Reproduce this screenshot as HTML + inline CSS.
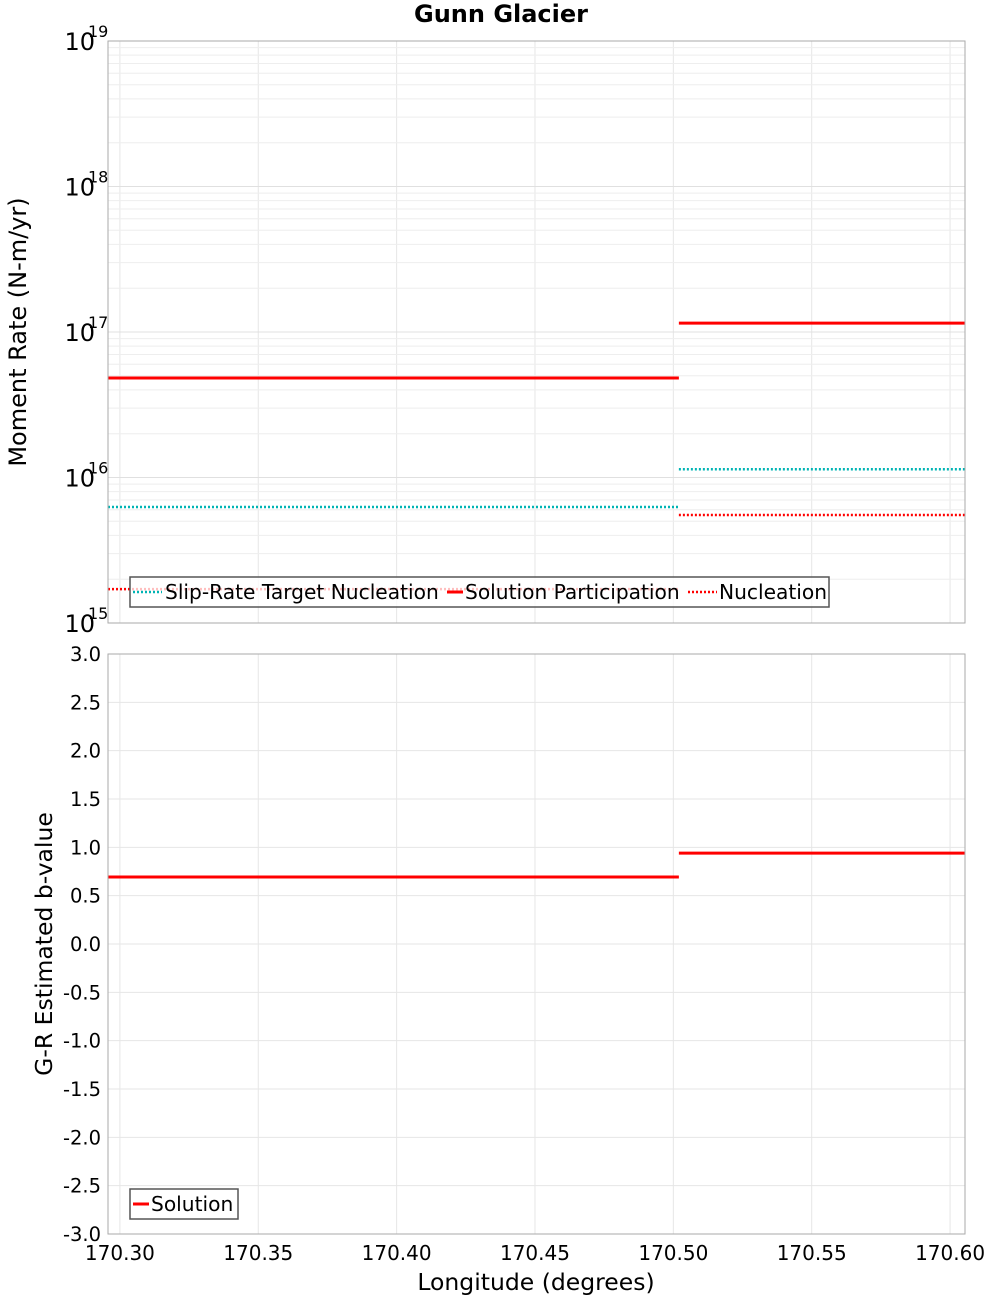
<!DOCTYPE html>
<html><head><meta charset="utf-8"><style>
body{margin:0;background:#fff;width:1000px;height:1300px;overflow:hidden}
svg text{font-family:"DejaVu Sans","Liberation Sans",sans-serif}
</style></head><body>
<svg id="c" width="1000" height="1300" xmlns="http://www.w3.org/2000/svg"></svg>
<script>
const xTicks=[170.30,170.35,170.40,170.45,170.50,170.55,170.60];
const segStart=[170.2957,170.502];
const segEnd=[170.502,170.6054];
const slipTarget=[6.27e15,1.14e16];
const solPart=[4.83e16,1.15e17];
const nucleation=[1.71e15,5.52e15];
const bValues=[0.693,0.94];
const bTicks=[3.0,2.5,2.0,1.5,1.0,0.5,0.0,-0.5,-1.0,-1.5,-2.0,-2.5,-3.0];
const logTicks=[15,16,17,18,19];

const svg=document.getElementById('c');const NS='http://www.w3.org/2000/svg';
function el(t,a,p){const e=document.createElementNS(NS,t);for(const k in a)e.setAttribute(k,a[k]);(p||svg).appendChild(e);return e;}
const L=108,R=965,T1=41,B1=623,T2=654,B2=1234;
const xs=v=>L+(v-170.2957)/(170.6054-170.2957)*(R-L);
const y1=v=>B1-(Math.log10(v)-15)/4*(B1-T1);
const y2=v=>B2-(v+3)/6*(B2-T2);

let t=el('text',{x:501,y:22,'text-anchor':'middle','font-size':24,'font-weight':'bold'});t.textContent='Gunn Glacier';


for(const [T,B,nm] of [[T1,B1,'moment-plot'],[T2,B2,'bvalue-plot']]){
  const r=el('rect',{x:L,y:T,width:R-L,height:B-T,fill:'#fff'});
  
  xTicks.forEach(v=>{const g=el('line',{x1:xs(v),x2:xs(v),y1:T,y2:B,stroke:'#e6e6e6'});});
}
for(let d=15;d<19;d++)for(let m=1;m<10;m++){const y=y1(m*Math.pow(10,d));const g=el('line',{x1:L,x2:R,y1:y,y2:y,stroke:m==1?'#e0e0e0':'#eeeeee'});}
bTicks.forEach(v=>{const y=y2(v);const g=el('line',{x1:L,x2:R,y1:y,y2:y,stroke:'#e6e6e6'});});

function seg(vals,yf,color,dash,name){for(let i=0;i<vals.length;i++){const a={x1:xs(segStart[i]),x2:xs(segEnd[i]),y1:yf(vals[i]),y2:yf(vals[i]),stroke:color,'stroke-width':dash?2.5:3};if(dash)a['stroke-dasharray']='2,2';const l=el('line',a);}}
seg(nucleation,y1,'#ff0000',true,'nucleation-line');
seg(slipTarget,y1,'#00b4b4',true,'slip-rate-target-line');
seg(solPart,y1,'#ff0000',false,'solution-participation-line');
seg(bValues,y2,'#ff0000',false,'b-value-line');

for(const [T,B] of [[T1,B1],[T2,B2]]){const f=el('rect',{x:L,y:T,width:R-L,height:B-T,fill:'none',stroke:'#aaa'});}

logTicks.forEach(d=>{const y=y1(Math.pow(10,d));
  const a=el('text',{x:95,y:y+9,'text-anchor':'end','font-size':24});a.textContent='10';
  const b=el('text',{x:88,y:y-4,'font-size':16});b.textContent=String(d);});
bTicks.forEach(v=>{const a=el('text',{x:101,y:y2(v)+7,'text-anchor':'end','font-size':19.5});a.textContent=v.toFixed(1);});
xTicks.forEach(v=>{const a=el('text',{x:xs(v),y:1260,'text-anchor':'middle','font-size':20});a.textContent=v.toFixed(2);});

t=el('text',{x:536,y:1290,'text-anchor':'middle','font-size':23.5});t.textContent='Longitude (degrees)';
t=el('text',{transform:'translate(26,332) rotate(-90)','text-anchor':'middle','font-size':24});t.textContent='Moment Rate (N-m/yr)';
t=el('text',{transform:'translate(52,944) rotate(-90)','text-anchor':'middle','font-size':23.5});t.textContent='G-R Estimated b-value';

let g=el('g',{});
el('rect',{x:130,y:577,width:699,height:30,fill:'rgba(255,255,255,0.75)',stroke:'#555','stroke-width':1.5},g);
const items=[[133,'#00b4b4',true,'Slip-Rate Target Nucleation',165],[447,'#ff0000',false,'Solution Participation',465],[688,'#ff0000',true,'Nucleation',719]];
items.forEach(([x,c,d,txt,tx])=>{const a={x1:x,x2:x+29,y1:592,y2:592,stroke:c,'stroke-width':3};if(d){a['stroke-dasharray']='2,2';a['stroke-width']=2.5;}if(!d){a.x1=x;a.x2=x+16;}el('line',a,g);const e=el('text',{x:tx,y:599,'font-size':20.2},g);e.textContent=txt;});
g=el('g',{});
el('rect',{x:130,y:1189,width:108,height:30,fill:'#fff',stroke:'#555','stroke-width':1.5},g);
el('line',{x1:133,x2:149,y1:1204,y2:1204,stroke:'#ff0000','stroke-width':3},g);
t=el('text',{x:151,y:1211,'font-size':20.2},g);t.textContent='Solution';
</script>
</body></html>
